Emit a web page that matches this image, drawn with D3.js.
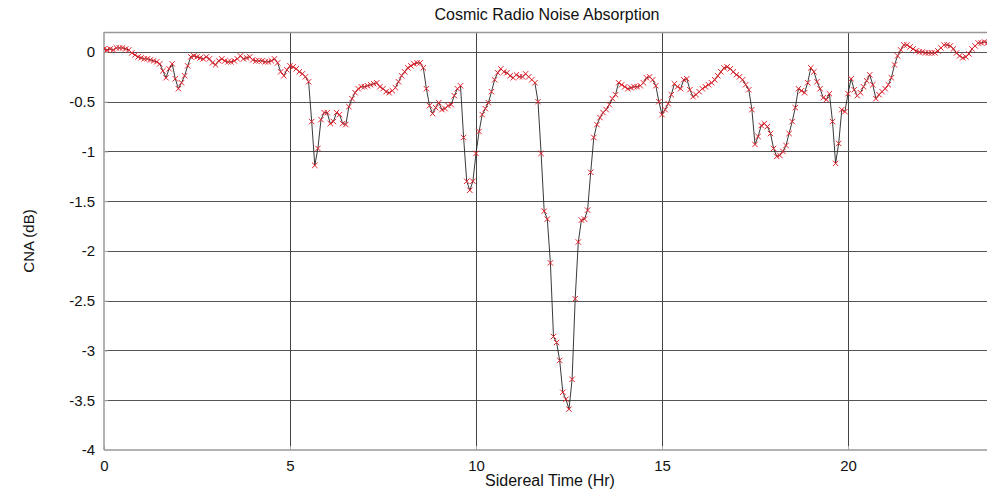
<!DOCTYPE html>
<html><head><meta charset="utf-8">
<script src="https://cdn.jsdelivr.net/npm/d3@7"></script>
<style>
html,body{margin:0;padding:0;background:#fff;}
svg{display:block;font-family:"Liberation Sans",Arial,Helvetica,sans-serif;}
</style></head>
<body>
<svg id="chart" width="987" height="490"></svg>
<script>
// ---- data ----
const titleText = "Cosmic Radio Noise Absorption";
const xLabel = "Sidereal Time (Hr)";
const yLabel = "CNA (dB)";
const xTicks = [0, 5, 10, 15, 20];
const yTicks = [0, -0.5, -1, -1.5, -2, -2.5, -3, -3.5, -4];
const xDomain = [0, 24];
const yDomain = [-4, 0.2];
const sampleStepHr = 5 / 60; // one sample every 5 minutes

// CNA values (dB), one row per sidereal hour, 12 samples each
const cnaH00 = [0.03, 0.02, 0.03, 0.02, 0.04, 0.04, 0.04, 0.03, 0.02, -0.01, -0.03, -0.05];
const cnaH01 = [-0.06, -0.07, -0.07, -0.08, -0.09, -0.10, -0.12, -0.19, -0.26, -0.17, -0.12, -0.27];
const cnaH02 = [-0.37, -0.31, -0.24, -0.14, -0.05, -0.04, -0.05, -0.06, -0.07, -0.05, -0.07, -0.11];
const cnaH03 = [-0.13, -0.09, -0.07, -0.09, -0.10, -0.10, -0.09, -0.07, -0.04, -0.07, -0.06, -0.05];
const cnaH04 = [-0.08, -0.09, -0.09, -0.09, -0.10, -0.10, -0.09, -0.07, -0.11, -0.20, -0.24, -0.18];
const cnaH05 = [-0.14, -0.15, -0.17, -0.20, -0.22, -0.25, -0.30, -0.70, -1.14, -0.97, -0.68, -0.61];
const cnaH06 = [-0.61, -0.72, -0.70, -0.61, -0.63, -0.72, -0.73, -0.55, -0.47, -0.41, -0.37, -0.35];
const cnaH07 = [-0.35, -0.34, -0.33, -0.32, -0.31, -0.35, -0.37, -0.40, -0.41, -0.39, -0.36, -0.30];
const cnaH08 = [-0.24, -0.20, -0.16, -0.14, -0.12, -0.11, -0.11, -0.16, -0.37, -0.54, -0.62, -0.56];
const cnaH09 = [-0.51, -0.58, -0.57, -0.54, -0.53, -0.44, -0.37, -0.34, -0.86, -1.30, -1.39, -1.30];
const cnaH10 = [-1.02, -0.80, -0.63, -0.57, -0.51, -0.40, -0.28, -0.21, -0.17, -0.20, -0.21, -0.24];
const cnaH11 = [-0.26, -0.23, -0.25, -0.25, -0.22, -0.25, -0.28, -0.31, -0.50, -1.02, -1.60, -1.68];
const cnaH12 = [-2.12, -2.86, -2.92, -3.10, -3.42, -3.49, -3.59, -3.29, -2.48, -1.91, -1.69, -1.68];
const cnaH13 = [-1.59, -1.21, -0.86, -0.73, -0.66, -0.61, -0.58, -0.53, -0.47, -0.43, -0.31, -0.33];
const cnaH14 = [-0.35, -0.37, -0.36, -0.35, -0.35, -0.34, -0.31, -0.26, -0.25, -0.28, -0.34, -0.50];
const cnaH15 = [-0.63, -0.58, -0.52, -0.43, -0.32, -0.35, -0.37, -0.28, -0.27, -0.38, -0.45, -0.43];
const cnaH16 = [-0.40, -0.37, -0.35, -0.33, -0.31, -0.28, -0.24, -0.20, -0.16, -0.15, -0.17, -0.20];
const cnaH17 = [-0.23, -0.25, -0.28, -0.33, -0.38, -0.58, -0.93, -0.85, -0.74, -0.72, -0.75, -0.82];
const cnaH18 = [-0.97, -1.05, -1.04, -1.00, -0.94, -0.82, -0.70, -0.56, -0.37, -0.39, -0.41, -0.31];
const cnaH19 = [-0.16, -0.20, -0.30, -0.37, -0.46, -0.48, -0.42, -0.70, -1.12, -0.92, -0.58, -0.60];
const cnaH20 = [-0.42, -0.27, -0.38, -0.44, -0.41, -0.35, -0.29, -0.23, -0.33, -0.47, -0.43, -0.40];
const cnaH21 = [-0.37, -0.33, -0.26, -0.13, -0.04, 0.02, 0.07, 0.07, 0.05, 0.03, 0.01, 0.00];
const cnaH22 = [0.00, -0.01, -0.01, -0.01, -0.01, 0.01, 0.04, 0.07, 0.07, 0.06, 0.03, -0.01];
const cnaH23 = [-0.04, -0.06, -0.05, -0.02, 0.03, 0.06, 0.09, 0.09, 0.10, 0.09, 0.09, 0.09];

const cnaHours = [cnaH00, cnaH01, cnaH02, cnaH03, cnaH04, cnaH05, cnaH06, cnaH07, cnaH08, cnaH09, cnaH10, cnaH11,
  cnaH12, cnaH13, cnaH14, cnaH15, cnaH16, cnaH17, cnaH18, cnaH19, cnaH20, cnaH21, cnaH22, cnaH23];
const series = cnaHours.flat().map((v, i) => ({ t: i * sampleStepHr, v }));

// ---- layout ----
const W = 987, H = 490;
const margin = { left: 104, top: 32, bottom: 40 };
const plotRight = 996.8;
const svg = d3.select("#chart");

const x = d3.scaleLinear().domain(xDomain).range([margin.left, plotRight]);
const y = d3.scaleLinear().domain(yDomain).range([H - margin.bottom, margin.top]);

svg.append("defs").append("clipPath").attr("id", "plotclip")
  .append("rect").attr("x", margin.left).attr("y", margin.top)
  .attr("width", plotRight - margin.left).attr("height", y(yDomain[0]) - margin.top);

// grid lines
const grid = svg.append("g");
grid.selectAll("line.hg").data(yTicks.filter(d => d !== yDomain[0])).join("line")
  .attr("x1", margin.left).attr("x2", plotRight)
  .attr("y1", d => Math.round(y(d)) + 0.5).attr("y2", d => Math.round(y(d)) + 0.5)
  .attr("stroke", "#555").attr("stroke-width", 1);
grid.selectAll("line.vg").data(xTicks.filter(d => d !== xDomain[0])).join("line")
  .attr("y1", margin.top).attr("y2", y(yDomain[0]))
  .attr("x1", d => Math.round(x(d)) + 0.5).attr("x2", d => Math.round(x(d)) + 0.5)
  .attr("stroke", "#444").attr("stroke-width", 1);

// frame (top)
svg.append("line").attr("x1", margin.left).attr("x2", plotRight)
  .attr("y1", margin.top + 0.5).attr("y2", margin.top + 0.5)
  .attr("stroke", "#999").attr("stroke-width", 1.5);

// axes
const xAxis = d3.axisBottom(x).tickValues(xTicks).tickSize(-4).tickPadding(10).tickFormat(d3.format("d"));
const yAxis = d3.axisLeft(y).tickValues(yTicks).tickSize(-4).tickPadding(9).tickFormat(d => d3.format("")(d).replace("−", "-"));

const gx = svg.append("g").attr("transform", `translate(0,${y(yDomain[0])})`).call(xAxis);
const gy = svg.append("g").attr("transform", `translate(${margin.left},0)`).call(yAxis);
[gx, gy].forEach(g => {
  g.select(".domain").attr("stroke", "#999").attr("stroke-width", 1.5);
  g.selectAll(".tick line").attr("stroke", "#aaa");
  g.selectAll(".tick text").attr("fill", "#111").style("font-size", "15px")
    .style("font-family", "'Liberation Sans', Arial, Helvetica, sans-serif");
});
gx.select(".domain").attr("d", `M${margin.left},0H${plotRight}`);
gy.select(".domain").attr("d", `M0,${y(yDomain[0])}V${margin.top}`);

// data line + markers
const plot = svg.append("g").attr("clip-path", "url(#plotclip)");
const line = d3.line().x(d => x(d.t)).y(d => y(d.v));
plot.append("path").datum(series).attr("d", line)
  .attr("fill", "none").attr("stroke", "#222").attr("stroke-width", 0.9);
const ms = 2.7;
plot.selectAll("path.mk").data(series).join("path")
  .attr("class", "mk")
  .attr("d", d => {
    const cx = x(d.t), cy = y(d.v);
    return `M${cx - ms},${cy - ms}L${cx + ms},${cy + ms}M${cx - ms},${cy + ms}L${cx + ms},${cy - ms}`;
  })
  .attr("stroke", "#e3222c").attr("stroke-width", 1).attr("fill", "none");

// titles
svg.append("text").attr("x", 547).attr("y", 20).attr("text-anchor", "middle")
  .style("font-size", "16px").attr("fill", "#111").text(titleText);
svg.append("text").attr("x", 550).attr("y", 486).attr("text-anchor", "middle")
  .style("font-size", "16px").attr("fill", "#111").text(xLabel);
svg.append("text").attr("transform", `translate(34,${(margin.top + y(yDomain[0])) / 2}) rotate(-90)`)
  .attr("text-anchor", "middle").style("font-size", "15px").attr("fill", "#111").text(yLabel);
</script>
</body></html>
